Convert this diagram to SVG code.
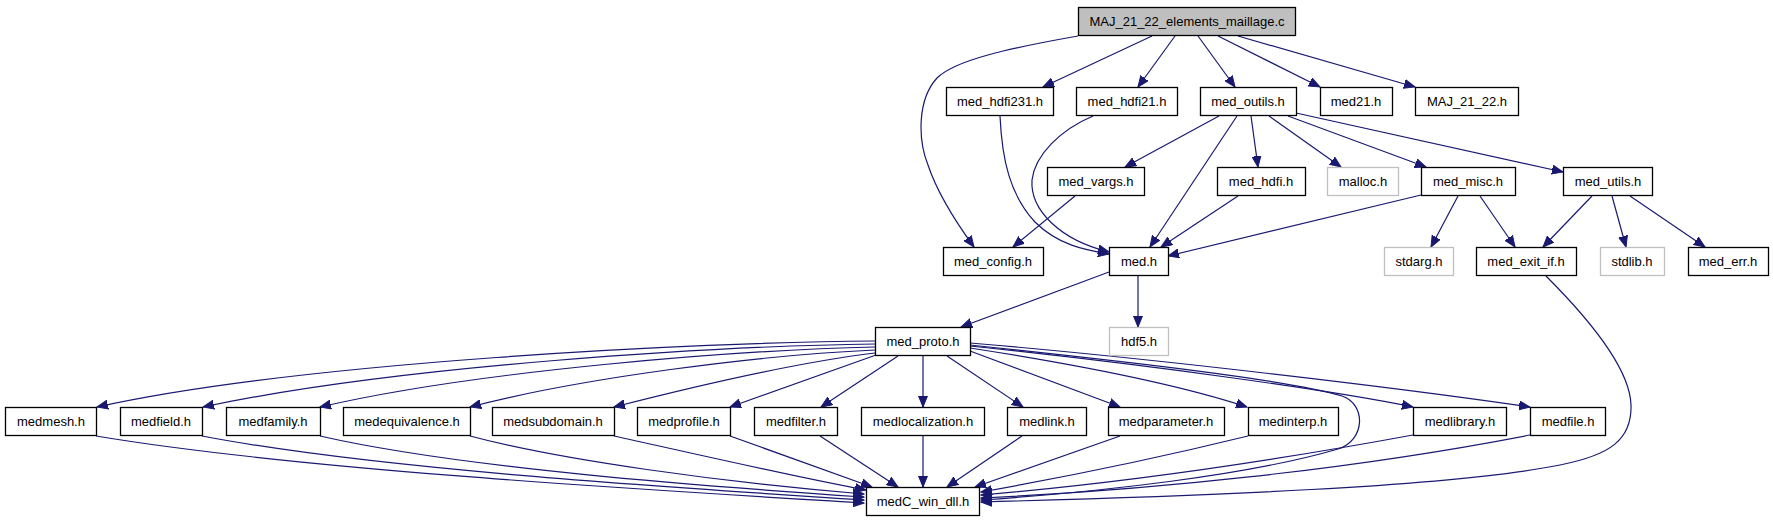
<svg xmlns="http://www.w3.org/2000/svg" width="1773" height="523" viewBox="0 0 1773 523">
<defs>
<style>
.n rect{fill:#fff;stroke:#000;stroke-width:1.3}
.g rect{fill:#fff;stroke:#bfbfbf;stroke-width:1.3}
.r rect{fill:#bfbfbf;stroke:#000;stroke-width:1.3}
text{font-family:"Liberation Sans",Arial,sans-serif;font-size:13px;text-anchor:middle;fill:#000}
.e path{fill:none;stroke:#191970;stroke-width:1.2;marker-end:url(#a)}
</style>
<marker id="a" markerUnits="userSpaceOnUse" markerWidth="12" markerHeight="10" refX="11" refY="4.5" orient="auto" viewBox="0 0 12 9">
<path d="M0,0 L11,4.5 L0,9 z" fill="#191970" stroke="#191970" stroke-width="1"/>
</marker>
</defs>
<rect width="1773" height="523" fill="#fff"/>
<g id="edges" class="e">
<path d="M1078,36 C1010,48 955,60 937,78 C917,100 918,140 928,165 C938,195 958,225 974,247"/>
<path d="M1152,36 L1043,87"/>
<path d="M1175,36 L1138,87"/>
<path d="M1198,36 L1235,87"/>
<path d="M1218,36 L1320,87"/>
<path d="M1238,36 L1415,87"/>
<path d="M1219,116 L1125,167"/>
<path d="M1237,116 L1150,247"/>
<path d="M1251,116 L1258,167"/>
<path d="M1269,116 L1341,167"/>
<path d="M1288,116 L1426,167"/>
<path d="M1296,113 L1563,172"/>
<path d="M1000,116 C1002,160 1010,195 1035,222 C1058,245 1085,250 1109,254"/>
<path d="M1093,116 C1060,130 1035,155 1032,180 C1030,210 1060,240 1109,252"/>
<path d="M1075,196 L1013,247"/>
<path d="M1238,196 L1161,247"/>
<path d="M1421,195 L1168,256"/>
<path d="M1458,196 L1431,247"/>
<path d="M1480,196 L1515,247"/>
<path d="M1592,196 L1543,247"/>
<path d="M1612,196 L1626,247"/>
<path d="M1630,196 L1705,247"/>
<path d="M1109,272 L961,327"/>
<path d="M1138,276 L1138,327"/>
<path d="M1546,276 C1590,320 1630,370 1631,405 C1632,440 1610,455 1560,465 C1450,487 1200,496 981,502"/>
<path d="M875,341 C700,342 300,362 97,407"/>
<path d="M875,344 C720,346 400,365 203,407"/>
<path d="M875,347 C740,350 480,370 320,407"/>
<path d="M875,350 C760,355 580,378 470,407"/>
<path d="M875,353 C800,362 700,385 614,407"/>
<path d="M876,355 L730,407"/>
<path d="M898,356 L821,407"/>
<path d="M923,356 L923,407"/>
<path d="M947,356 L1023,407"/>
<path d="M970,351 L1120,407"/>
<path d="M970,348 C1080,365 1180,385 1247,407"/>
<path d="M970,345 C1130,362 1290,380 1342,396 C1366,404 1366,440 1338,449 C1250,475 1100,492 981,500"/>
<path d="M970,346 C1150,365 1330,390 1413,407"/>
<path d="M970,343 C1150,358 1400,388 1530,407"/>
<path d="M96,436 C300,470 650,490 864,503"/>
<path d="M202,436 C380,470 680,488 864,500"/>
<path d="M320,436 C460,468 700,486 864,497"/>
<path d="M470,436 C560,460 720,482 864,494"/>
<path d="M614,436 C700,455 800,478 866,490"/>
<path d="M730,436 L872,487"/>
<path d="M820,436 L898,487"/>
<path d="M923,436 L923,487"/>
<path d="M1022,436 L947,487"/>
<path d="M1120,436 L975,487"/>
<path d="M1248,436 C1150,460 1060,478 981,492"/>
<path d="M1413,435 C1250,465 1100,485 981,495"/>
<path d="M1530,435 C1350,470 1150,490 981,498"/>
</g>
<g id="n_root" class="r"><rect x="1078.5" y="7.5" width="217" height="28"/><text x="1187" y="26">MAJ_21_22_elements_maillage.c</text></g>
<g id="n_med_hdfi231" class="n"><rect x="946.5" y="87.5" width="107" height="28"/><text x="1000" y="106">med_hdfi231.h</text></g>
<g id="n_med_hdfi21" class="n"><rect x="1076.5" y="87.5" width="101" height="28"/><text x="1127" y="106">med_hdfi21.h</text></g>
<g id="n_med_outils" class="n"><rect x="1200.5" y="87.5" width="96" height="28"/><text x="1248" y="106">med_outils.h</text></g>
<g id="n_med21" class="n"><rect x="1320.5" y="87.5" width="72" height="28"/><text x="1356" y="106">med21.h</text></g>
<g id="n_MAJ_21_22" class="n"><rect x="1415.5" y="87.5" width="103" height="28"/><text x="1467" y="106">MAJ_21_22.h</text></g>
<g id="n_med_vargs" class="n"><rect x="1047.5" y="167.5" width="97" height="28"/><text x="1096" y="186">med_vargs.h</text></g>
<g id="n_med_hdfi" class="n"><rect x="1217.5" y="167.5" width="88" height="28"/><text x="1261" y="186">med_hdfi.h</text></g>
<g id="n_malloc" class="g"><rect x="1327.5" y="167.5" width="71" height="28"/><text x="1363" y="186">malloc.h</text></g>
<g id="n_med_misc" class="n"><rect x="1421.5" y="167.5" width="94" height="28"/><text x="1468" y="186">med_misc.h</text></g>
<g id="n_med_utils" class="n"><rect x="1563.5" y="167.5" width="89" height="28"/><text x="1608" y="186">med_utils.h</text></g>
<g id="n_med_config" class="n"><rect x="943.5" y="247.5" width="100" height="28"/><text x="993" y="266">med_config.h</text></g>
<g id="n_med" class="n"><rect x="1109.5" y="247.5" width="59" height="28"/><text x="1139" y="266">med.h</text></g>
<g id="n_stdarg" class="g"><rect x="1384.5" y="247.5" width="69" height="28"/><text x="1419" y="266">stdarg.h</text></g>
<g id="n_med_exit_if" class="n"><rect x="1476.5" y="247.5" width="100" height="28"/><text x="1526" y="266">med_exit_if.h</text></g>
<g id="n_stdlib" class="g"><rect x="1600.5" y="247.5" width="64" height="28"/><text x="1632" y="266">stdlib.h</text></g>
<g id="n_med_err" class="n"><rect x="1688.5" y="247.5" width="80" height="28"/><text x="1728" y="266">med_err.h</text></g>
<g id="n_med_proto" class="n"><rect x="875.5" y="327.5" width="95" height="28"/><text x="923" y="346">med_proto.h</text></g>
<g id="n_hdf5" class="g"><rect x="1109.5" y="327.5" width="59" height="28"/><text x="1139" y="346">hdf5.h</text></g>
<g id="n_medmesh" class="n"><rect x="5.5" y="407.5" width="91" height="28"/><text x="51" y="426">medmesh.h</text></g>
<g id="n_medfield" class="n"><rect x="120.5" y="407.5" width="82" height="28"/><text x="161" y="426">medfield.h</text></g>
<g id="n_medfamily" class="n"><rect x="226.5" y="407.5" width="94" height="28"/><text x="273" y="426">medfamily.h</text></g>
<g id="n_medequivalence" class="n"><rect x="343.5" y="407.5" width="127" height="28"/><text x="407" y="426">medequivalence.h</text></g>
<g id="n_medsubdomain" class="n"><rect x="492.5" y="407.5" width="122" height="28"/><text x="553" y="426">medsubdomain.h</text></g>
<g id="n_medprofile" class="n"><rect x="637.5" y="407.5" width="93" height="28"/><text x="684" y="426">medprofile.h</text></g>
<g id="n_medfilter" class="n"><rect x="754.5" y="407.5" width="83" height="28"/><text x="796" y="426">medfilter.h</text></g>
<g id="n_medlocalization" class="n"><rect x="861.5" y="407.5" width="123" height="28"/><text x="923" y="426">medlocalization.h</text></g>
<g id="n_medlink" class="n"><rect x="1007.5" y="407.5" width="79" height="28"/><text x="1047" y="426">medlink.h</text></g>
<g id="n_medparameter" class="n"><rect x="1108.5" y="407.5" width="116" height="28"/><text x="1166" y="426">medparameter.h</text></g>
<g id="n_medinterp" class="n"><rect x="1248.5" y="407.5" width="90" height="28"/><text x="1293" y="426">medinterp.h</text></g>
<g id="n_medlibrary" class="n"><rect x="1413.5" y="407.5" width="93" height="28"/><text x="1460" y="426">medlibrary.h</text></g>
<g id="n_medfile" class="n"><rect x="1530.5" y="407.5" width="75" height="28"/><text x="1568" y="426">medfile.h</text></g>
<g id="n_medC_win_dll" class="n"><rect x="866.5" y="487.5" width="113" height="28"/><text x="923" y="506">medC_win_dll.h</text></g>
</svg>
